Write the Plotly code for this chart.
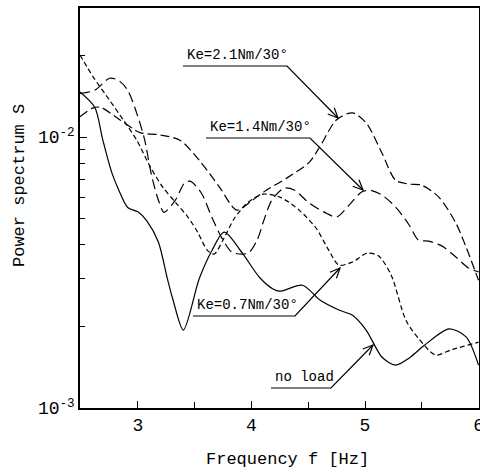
import math
import plotly.graph_objects as go

# ---------------- data ----------------
noload_f = [2.49, 2.62, 2.69, 2.77, 2.83, 2.91, 3.00, 3.08, 3.18, 3.26, 3.31, 3.40, 3.54, 3.65, 3.76,
            3.92, 4.07, 4.19, 4.25, 4.45, 4.60, 4.77, 4.89, 5.01, 5.15, 5.27, 5.39, 5.52, 5.74, 5.89, 6.00]
noload_s = [0.0147, 0.0129, 0.0098, 0.0074, 0.0064, 0.0055, 0.0053, 0.0049, 0.0041, 0.0030, 0.0025,
            0.00194, 0.0030, 0.0038, 0.00446, 0.00373, 0.00304, 0.00275, 0.0027, 0.00284, 0.00251,
            0.0023, 0.0022, 0.00194, 0.00154, 0.00144, 0.00153, 0.0017, 0.00196, 0.00183, 0.00144]

ke07_f = [2.49, 2.61, 2.75, 2.87, 2.99, 3.11, 3.22, 3.33, 3.44, 3.53, 3.61, 3.67, 3.75, 3.85, 3.97,
          4.10, 4.25, 4.42, 4.57, 4.68, 4.77, 4.89, 5.02, 5.12, 5.23, 5.36, 5.47, 5.62, 5.76, 6.00]
ke07_s = [0.0201, 0.0166, 0.0137, 0.0116, 0.00975, 0.00775, 0.00653, 0.00575, 0.00507, 0.00443,
          0.00383, 0.00370, 0.00417, 0.00502, 0.00575, 0.00616, 0.00601, 0.00538, 0.00461, 0.00383,
          0.00337, 0.00346, 0.00373, 0.00364, 0.0031, 0.00211, 0.00181, 0.00157, 0.00164, 0.00175]

ke14_f = [2.49, 2.62, 2.75, 2.83, 2.91, 3.00, 3.06, 3.12, 3.18, 3.23, 3.33, 3.41, 3.46, 3.56, 3.65,
          3.74, 3.83, 3.97, 4.05, 4.11, 4.18, 4.29, 4.38, 4.51, 4.66, 4.75, 4.86, 4.97, 5.04, 5.15,
          5.27, 5.39, 5.47, 5.56, 5.68, 5.80, 5.91, 6.00]
ke14_s = [0.0145, 0.0149, 0.0165, 0.0162, 0.0149, 0.0119, 0.00975, 0.00724, 0.00586, 0.00528,
          0.00586, 0.00676, 0.00688, 0.00621, 0.00507, 0.00424, 0.00376, 0.00373, 0.00417, 0.00494,
          0.00586, 0.00649, 0.00637, 0.0057, 0.00524, 0.00507, 0.00561, 0.00627, 0.00637, 0.00611,
          0.00552, 0.00473, 0.00417, 0.00413, 0.00396, 0.00361, 0.00329, 0.00318]

ke21_f = [2.49, 2.60, 2.67, 2.84, 3.02, 3.19, 3.37, 3.54, 3.72, 3.87, 4.01, 4.13, 4.31, 4.51, 4.60,
          4.75, 4.89, 5.01, 5.15, 5.27, 5.39, 5.50, 5.65, 5.80, 5.89, 6.00]
ke21_s = [0.0119, 0.0128, 0.0129, 0.0116, 0.0104, 0.0102, 0.00975, 0.00822, 0.00653, 0.00538,
          0.00586, 0.00637, 0.00706, 0.00809, 0.00918, 0.0116, 0.0123, 0.0113, 0.00873, 0.00693,
          0.00671, 0.00665, 0.00601, 0.00482, 0.00393, 0.00296]

x_ticks = [3, 4, 5, 6]
x_minor = [3.5, 4.5, 5.5]
y_ticks = [0.001, 0.01]
y_ticktext = ["10<sup>-3</sup>", "10<sup>-2</sup>"]
y_minor = [0.002, 0.003, 0.004, 0.005, 0.006, 0.007, 0.008, 0.009, 0.02, 0.03]

labels = ["Ke=2.1Nm/30°", "Ke=1.4Nm/30°", "Ke=0.7Nm/30°", "no load"]

# ---------------- figure ----------------
W, H = 480, 473
ML, MR, MT, MB = 80, 1, 8, 65
PW, PH = W - ML - MR, H - MT - MB

def px(x):
    return (x - ML) / PW

def py(y):
    return (H - MB - y) / PH

fig = go.Figure()
ln = dict(color="black", width=1.2, shape="spline", smoothing=0.8)
fig.add_trace(go.Scatter(x=noload_f, y=noload_s, mode="lines", line=dict(ln, dash="solid")))
fig.add_trace(go.Scatter(x=ke07_f, y=ke07_s, mode="lines", line=dict(ln, dash="5px,3px")))
fig.add_trace(go.Scatter(x=ke14_f, y=ke14_s, mode="lines", line=dict(ln, dash="10px,5px")))
fig.add_trace(go.Scatter(x=ke21_f, y=ke21_s, mode="lines", line=dict(ln, dash="9px,4px")))

FONT = "Liberation Mono"

fig.update_xaxes(range=[2.49, 6.004], showline=True, mirror=True, linecolor="black", linewidth=1.5,
                 ticks="inside", ticklen=7, tickwidth=1, tickcolor="black",
                 tickvals=x_ticks, ticktext=[str(v) for v in x_ticks],
                 ticklabeloverflow="allow", automargin=False,
                 minor=dict(tickvals=x_minor, ticks="inside", ticklen=6, tickcolor="black"),
                 showgrid=False, zeroline=False,
                 tickfont=dict(family=FONT, size=18, color="black"))
fig.update_yaxes(type="log", range=[-3, -1.523], showline=True, mirror=True, linecolor="black",
                 linewidth=1.5, ticks="inside", ticklen=7, tickwidth=1, tickcolor="black",
                 tickvals=y_ticks, ticktext=y_ticktext, automargin=False,
                 minor=dict(tickvals=y_minor, ticks="inside", ticklen=5, tickcolor="black"),
                 showgrid=False, zeroline=False,
                 tickfont=dict(family=FONT, size=18, color="black"))

annotations = [
    dict(text="Power spectrum S", x=px(20), y=py(186), xref="paper", yref="paper",
         xanchor="center", yanchor="middle",
         textangle=-90, showarrow=False, font=dict(family=FONT, size=17, color="black")),
    dict(text="Frequency f [Hz]", x=px(287), y=py(460), xref="paper", yref="paper",
         xanchor="center", yanchor="middle",
         showarrow=False, font=dict(family=FONT, size=17, color="black")),
]

# label: (text, text-left x, underline y, underline right x, arrow tip x, tip y)  [pixels]
label_geom = [
    (labels[0], 185, 66, 287, 338, 118),
    (labels[1], 208, 138, 310, 363, 190),
    (labels[2], 195, 316, 295, 340, 268),
    (labels[3], 273, 388, 331, 373, 345),
]
shapes = []
for txt, lx, uy, rx, tx, ty in label_geom:
    annotations.append(dict(text=txt, x=px(lx), y=py(uy - 1), xref="paper", yref="paper",
                            xanchor="left", yanchor="bottom", showarrow=False,
                            font=dict(family=FONT, size=14, color="black")))
    # underline + leader
    shapes.append(dict(type="path", xref="paper", yref="paper",
                       path=f"M {px(lx - 2)},{py(uy)} L {px(rx)},{py(uy)} L {px(tx)},{py(ty)}",
                       line=dict(color="black", width=1.2)))
    # open arrowhead
    dx, dy = tx - rx, ty - uy
    d = math.hypot(dx, dy)
    ux, uy_ = dx / d, dy / d
    nx, ny = -uy_, ux
    L, Wd = 10, 4.5
    b1 = (tx - L * ux + Wd * nx, ty - L * uy_ + Wd * ny)
    b2 = (tx - L * ux - Wd * nx, ty - L * uy_ - Wd * ny)
    shapes.append(dict(type="path", xref="paper", yref="paper",
                       path=f"M {px(b1[0])},{py(b1[1])} L {px(tx)},{py(ty)} L {px(b2[0])},{py(b2[1])}",
                       line=dict(color="black", width=1.2)))

fig.update_layout(width=W, height=H, margin=dict(l=ML, r=MR, t=MT, b=MB, autoexpand=False),
                  paper_bgcolor="white", plot_bgcolor="white", showlegend=False,
                  annotations=annotations, shapes=shapes)

fig.write_html("out.html")
